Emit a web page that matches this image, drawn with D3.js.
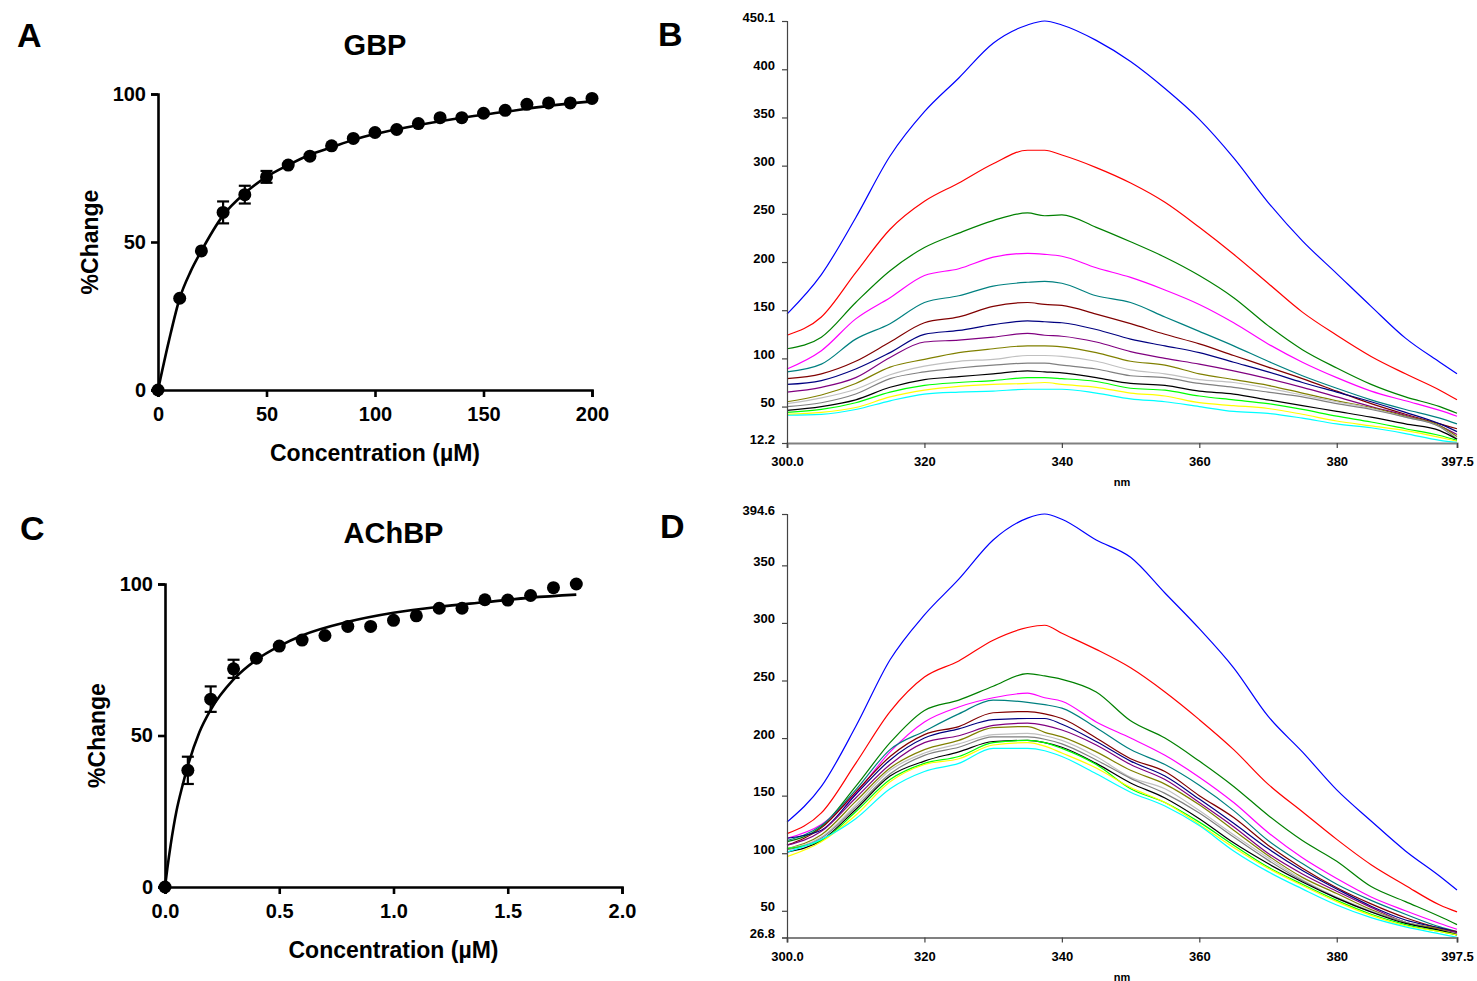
<!DOCTYPE html>
<html>
<head>
<meta charset="utf-8">
<script src="https://cdn.jsdelivr.net/npm/d3@7"></script>
<style>
  body { margin: 0; background: #fff; }
  svg { display: block; }
  text { font-family: "Liberation Sans", Arial, sans-serif; }
</style>
</head>
<body>
<svg id="fig" width="1477" height="981"></svg>
<script>
// ---- panel A : GBP binding
const gbpConc   = [0, 10, 20, 30, 40, 50, 60, 70, 80, 90, 100, 110, 120, 130, 140, 150, 160, 170, 180, 190, 200];
const gbpChange = [0, 31, 47, 60, 66, 72, 76, 79, 82.5, 85, 87, 88, 90, 92, 92, 93.5, 94.5, 96.5, 97, 97, 98.5];
const gbpErr    = [0, 0, 0, 3.7, 3, 2, 0, 0, 0, 0, 0, 0, 0, 0, 0, 0, 0, 0, 0, 0, 0];
const gbpFitConc   = [0, 5, 10, 15, 20, 30, 40, 50, 60, 70, 80, 90, 100, 120, 140, 160, 180, 200];
const gbpFitChange = [0, 16.5, 31, 40, 47, 59, 66.5, 72, 76, 79.5, 82, 84.5, 86.5, 89.5, 92, 94, 96, 97.5];

// ---- panel C : AChBP binding
const achConc   = [0, 0.1, 0.2, 0.3, 0.4, 0.5, 0.6, 0.7, 0.8, 0.9, 1.0, 1.1, 1.2, 1.3, 1.4, 1.5, 1.6, 1.7, 1.8];
const achChange = [0, 38.5, 62, 72, 75.5, 79.5, 81.5, 83, 86, 86, 88, 89.5, 92, 92, 94.8, 94.7, 96.2, 98.8, 100];
const achErr    = [0, 4.5, 4.2, 3, 0, 0, 0, 0, 0, 0, 0, 0, 0, 0, 0, 0, 0, 0, 0];
const achFitConc   = [0, 0.01, 0.025, 0.05, 0.075, 0.1, 0.15, 0.2, 0.3, 0.4, 0.5, 0.6, 0.8, 1.0, 1.2, 1.4, 1.6, 1.8];
const achFitChange = [0, 6, 14, 25, 33, 40, 51, 58.5, 68.5, 75, 79.5, 83, 87.5, 90.5, 92.5, 94, 95.5, 96.5];

// ---- panels B and D : emission spectra (wavelength grid, nm)
const nm = [300, 305, 310, 315, 320, 325, 330, 335, 337.5, 340, 345, 350, 355, 360, 365, 370, 375, 380, 385, 390, 395, 397.5];

const bBlue    = [146, 187, 246, 310, 356, 391, 427, 446, 450.1, 446, 430, 408, 380, 348, 308, 262, 222, 188, 154, 121, 96, 84];
const bRed     = [124, 143, 189, 234, 263, 282, 302, 316, 316, 311, 298, 282, 262, 236, 208, 178, 148, 124, 102, 84, 67, 57];
const bGreen   = [110, 122, 158, 191, 215, 230, 243, 251, 248, 249, 236, 221, 205, 186, 163, 134, 109, 90, 73, 60, 50, 43];
const bMagenta = [89, 108, 141, 163, 186, 193, 205, 209, 208, 206, 194, 184, 171, 156, 137, 115, 96, 80, 66, 56, 46, 40];
const bTeal    = [86, 94, 120, 136, 158, 165, 175, 179, 180, 178, 165, 158, 143, 128, 113, 97, 82, 69, 57, 47, 38, 32];
const bMaroon  = [79, 84, 97, 117, 137, 143, 154, 158, 156, 155, 146, 136, 125, 115, 103, 91, 79, 66, 53, 42, 32, 27];
const bNavy    = [73, 77, 89, 106, 125, 129, 135, 139, 138, 137, 130, 120, 113, 106, 96, 86, 75, 65, 55, 44, 32, 24];
const bPurple  = [65, 70, 80, 101, 117, 119, 122, 126, 124, 123, 117, 107, 100, 94, 87, 79, 70, 60, 50, 41, 30, 21];
const bOlive   = [55, 62, 74, 91, 99, 106, 110, 113, 113, 112, 106, 97, 93, 84, 78, 72, 64, 56, 49, 40, 30, 19];
const bSilver  = [53, 59, 68, 83, 92, 97, 99, 103, 103, 102, 97, 88, 84, 78, 75, 69, 62, 55, 48, 39, 29, 17];
const bGray    = [50, 54, 63, 79, 86, 90, 93, 95, 95, 93, 89, 82, 80, 74, 70, 65, 60, 53, 47, 39, 29, 16];
const bBlack   = [46, 50, 57, 70, 78, 81, 84, 87, 86, 85, 80, 74, 72, 66, 63, 57, 51, 45, 39, 32, 25, 16];
const bLime    = [44, 47, 54, 65, 72, 75, 77, 80, 80, 79, 76, 69, 67, 61, 57, 53, 47, 40, 34, 27, 20, 15];
const bYellow  = [42, 44, 49, 60, 67, 71, 73, 74, 75, 73, 70, 64, 61, 54, 51, 48, 42, 35, 30, 25, 18, 14];
const bCyan    = [41, 42, 47, 56, 63, 65, 66, 68, 68, 68, 64, 58, 55, 50, 45, 43, 38, 32, 28, 22, 15, 13];

const dBlue    = [127, 158, 210, 268, 307, 338, 372, 391, 394.6, 390, 372, 357, 326, 295, 261, 219, 188, 155, 128, 102, 80, 68];
const dRed     = [117, 135, 178, 223, 253, 267, 285, 296, 298, 291, 277, 261, 240, 216, 190, 160, 136, 112, 90, 72, 55, 49];
const dGreen   = [110, 123, 158, 196, 224, 233, 245, 256, 254, 251, 240, 215, 200, 180, 158, 133, 111, 93, 71, 58, 45, 38];
const dMagenta = [113, 125, 152, 188, 214, 227, 235, 239, 235, 232, 214, 200, 185, 166, 144, 118, 96, 78, 62, 50, 39, 34];
const dTeal    = [111, 124, 155, 190, 206, 221, 233, 231, 229, 226, 209, 190, 177, 159, 137, 111, 91, 73, 59, 47, 36, 32];
const dMaroon  = [107, 122, 153, 184, 203, 210, 222, 223, 221, 217, 200, 182, 171, 150, 131, 107, 87, 70, 56, 44, 35, 32];
const dNavy    = [113, 120, 151, 181, 200, 208, 216, 217, 217, 212, 197, 180, 167, 147, 126, 104, 85, 69, 54, 42, 35, 31];
const dPurple  = [107, 119, 148, 177, 196, 202, 211, 213, 211, 207, 194, 177, 164, 144, 123, 100, 82, 67, 53, 40, 34, 31];
const dOlive   = [104, 116, 145, 174, 190, 198, 209, 210, 205, 201, 188, 172, 160, 142, 120, 98, 79, 65, 51, 40, 34, 30];
const dSilver  = [104, 114, 142, 172, 187, 195, 203, 204, 202, 198, 184, 166, 156, 137, 116, 96, 77, 62, 50, 40, 33, 30];
const dGray    = [103, 113, 140, 169, 185, 192, 201, 201, 199, 195, 181, 165, 152, 135, 114, 94, 76, 61, 49, 40, 33, 30];
const dBlack   = [101, 111, 138, 167, 180, 188, 197, 198, 196, 192, 178, 161, 148, 130, 109, 91, 75, 61, 49, 39, 33, 29];
const dLime    = [104, 111, 136, 164, 178, 184, 196, 198, 196, 191, 177, 156, 144, 127, 107, 88, 73, 59, 47, 38, 32, 29];
const dYellow  = [97, 110, 133, 162, 177, 182, 194, 196, 193, 187, 174, 157, 144, 125, 105, 87, 72, 58, 46, 37, 32, 29];
const dCyan    = [101, 112, 130, 156, 171, 178, 191, 191, 189, 184, 169, 153, 141, 124, 102, 84, 69, 55, 44, 36, 30, 27];

const bYTicks = [12.2, 50, 100, 150, 200, 250, 300, 350, 400, 450.1];
const dYTicks = [26.8, 50, 100, 150, 200, 250, 300, 350, 394.6];
const specXTicks = [300, 320, 340, 360, 380, 397.5];

const traceColors = ["#0000ff", "#ff0000", "#008000", "#ff00ff", "#008080", "#800000", "#000080",
  "#800080", "#808000", "#c0c0c0", "#808080", "#000000", "#00ff00", "#ffff00", "#00ffff"];

const svg = d3.select("#fig");

function bindingPanel(o) {
  const x = d3.scaleLinear().domain(o.xDomain).range([o.left, o.right]);
  const y = d3.scaleLinear().domain([0, 100]).range([o.bottom, o.top]);
  const g = svg.append("g");

  const xAxis = g.append("g")
    .attr("transform", `translate(0,${o.bottom})`)
    .call(d3.axisBottom(x).tickValues(o.xTicks).tickFormat(o.fmt).tickSizeOuter(0).tickSize(7).tickPadding(10));
  const yAxis = g.append("g")
    .attr("transform", `translate(${o.left},0)`)
    .call(d3.axisLeft(y).tickValues([0, 50, 100]).tickSizeOuter(0).tickSize(7).tickPadding(5));
  [xAxis, yAxis].forEach(a => {
    a.select(".domain").attr("stroke", "#000").attr("stroke-width", 2.6);
    a.selectAll(".tick line").attr("stroke", "#000").attr("stroke-width", 2.6);
    a.selectAll(".tick text").attr("fill", "#000").style("font-size", "20px").style("font-weight", "bold");
  });

  const fit = o.fitX.map((c, i) => [c, o.fitY[i]]);
  g.append("path")
    .attr("d", d3.line().x(d => x(d[0])).y(d => y(d[1])).curve(d3.curveMonotoneX)(fit))
    .attr("fill", "none").attr("stroke", "#000").attr("stroke-width", 2.6);

  const pts = o.px.map((c, i) => ({ c: c, v: o.py[i], e: o.err[i] }));
  const eb = g.selectAll(".eb").data(pts.filter(d => d.e > 0)).enter().append("g");
  eb.append("line")
    .attr("x1", d => x(d.c)).attr("x2", d => x(d.c))
    .attr("y1", d => y(d.v - d.e)).attr("y2", d => y(d.v + d.e))
    .attr("stroke", "#000").attr("stroke-width", 2.2);
  [-1, 1].forEach(s => {
    eb.append("line")
      .attr("x1", d => x(d.c) - 6).attr("x2", d => x(d.c) + 6)
      .attr("y1", d => y(d.v + s * d.e)).attr("y2", d => y(d.v + s * d.e))
      .attr("stroke", "#000").attr("stroke-width", 2.2);
  });
  g.selectAll(".pt").data(pts).enter().append("circle")
    .attr("cx", d => x(d.c)).attr("cy", d => y(d.v)).attr("r", 6.5).attr("fill", "#000");

  g.append("text").attr("x", (o.left + o.right) / 2).attr("y", o.titleY)
    .attr("text-anchor", "middle").style("font-size", "29px").style("font-weight", "bold").text(o.title);
  g.append("text").attr("x", (o.left + o.right) / 2).attr("y", o.bottom + 71)
    .attr("text-anchor", "middle").style("font-size", "23px").style("font-weight", "bold")
    .text("Concentration (\u00b5M)");
  g.append("text")
    .attr("transform", `translate(${o.left - 60},${(o.top + o.bottom) / 2}) rotate(-90)`)
    .attr("text-anchor", "middle").style("font-size", "23px").style("font-weight", "bold").text("%Change");
}

function spectrumPanel(o) {
  const x = d3.scaleLinear().domain([300, 397.5]).range([o.left, o.right]);
  const y = d3.scaleLinear().domain(o.yDomain).range([o.bottom, o.top]);
  const g = svg.append("g");

  const line = d3.line().x(d => x(d[0])).y(d => y(d[1])).curve(d3.curveMonotoneX);
  o.series.forEach((s, k) => {
    g.append("path")
      .attr("d", line(nm.map((w, i) => [w, s[i]])))
      .attr("fill", "none").attr("stroke", traceColors[k]).attr("stroke-width", 1.2);
  });

  const xAxis = g.append("g")
    .attr("transform", `translate(0,${o.bottom})`)
    .call(d3.axisBottom(x).tickValues(specXTicks)
      .tickFormat(d => (d === 300 ? "300.0" : String(d))).tickSizeOuter(0).tickSize(5).tickPadding(9));
  xAxis.select(".domain").attr("stroke", "#808080").attr("stroke-width", 2);
  xAxis.selectAll(".tick line").attr("stroke", "#444").attr("stroke-width", 1.2);
  xAxis.selectAll(".tick text").attr("fill", "#000").style("font-size", "13px").style("font-weight", "bold");

  const yAxis = g.append("g")
    .attr("transform", `translate(${o.left},0)`)
    .call(d3.axisLeft(y).tickValues(o.yTicks).tickFormat(d => String(d)).tickSizeOuter(0).tickSize(5).tickPadding(7));
  yAxis.select(".domain").attr("stroke", "#444").attr("stroke-width", 1.2);
  yAxis.selectAll(".tick line").attr("stroke", "#444").attr("stroke-width", 1.2);
  yAxis.selectAll(".tick text").attr("fill", "#000").attr("dy", "0")
    .style("font-size", "13px").style("font-weight", "bold");

  g.append("text").attr("x", (o.left + o.right) / 2).attr("y", o.bottom + 43)
    .attr("text-anchor", "middle").style("font-size", "11px").style("font-weight", "bold").text("nm");
}

bindingPanel({
  left: 158, right: 592, top: 94, bottom: 390, xDomain: [0, 200], xTicks: [0, 50, 100, 150, 200],
  fmt: d3.format("d"), px: gbpConc, py: gbpChange, err: gbpErr, fitX: gbpFitConc, fitY: gbpFitChange,
  title: "GBP", titleY: 55
});
bindingPanel({
  left: 165, right: 622, top: 584, bottom: 887, xDomain: [0, 2], xTicks: [0, 0.5, 1, 1.5, 2],
  fmt: d3.format(".1f"), px: achConc, py: achChange, err: achErr, fitX: achFitConc, fitY: achFitChange,
  title: "AChBP", titleY: 543
});

spectrumPanel({
  left: 787, right: 1457, top: 21, bottom: 443, yDomain: [12.2, 450.1], yTicks: bYTicks,
  series: [bBlue, bRed, bGreen, bMagenta, bTeal, bMaroon, bNavy, bPurple, bOlive, bSilver, bGray, bBlack, bLime, bYellow, bCyan]
});
spectrumPanel({
  left: 787, right: 1457, top: 514, bottom: 937.5, yDomain: [26.8, 394.6], yTicks: dYTicks,
  series: [dBlue, dRed, dGreen, dMagenta, dTeal, dMaroon, dNavy, dPurple, dOlive, dSilver, dGray, dBlack, dLime, dYellow, dCyan]
});

// panel letters
const letters = [["A", 17, 47], ["B", 658, 46], ["C", 20, 540], ["D", 660, 538]];
svg.selectAll(".letter").data(letters).enter().append("text")
  .attr("x", d => d[1]).attr("y", d => d[2])
  .style("font-size", "34px").style("font-weight", "bold").text(d => d[0]);
</script>
</body>
</html>
